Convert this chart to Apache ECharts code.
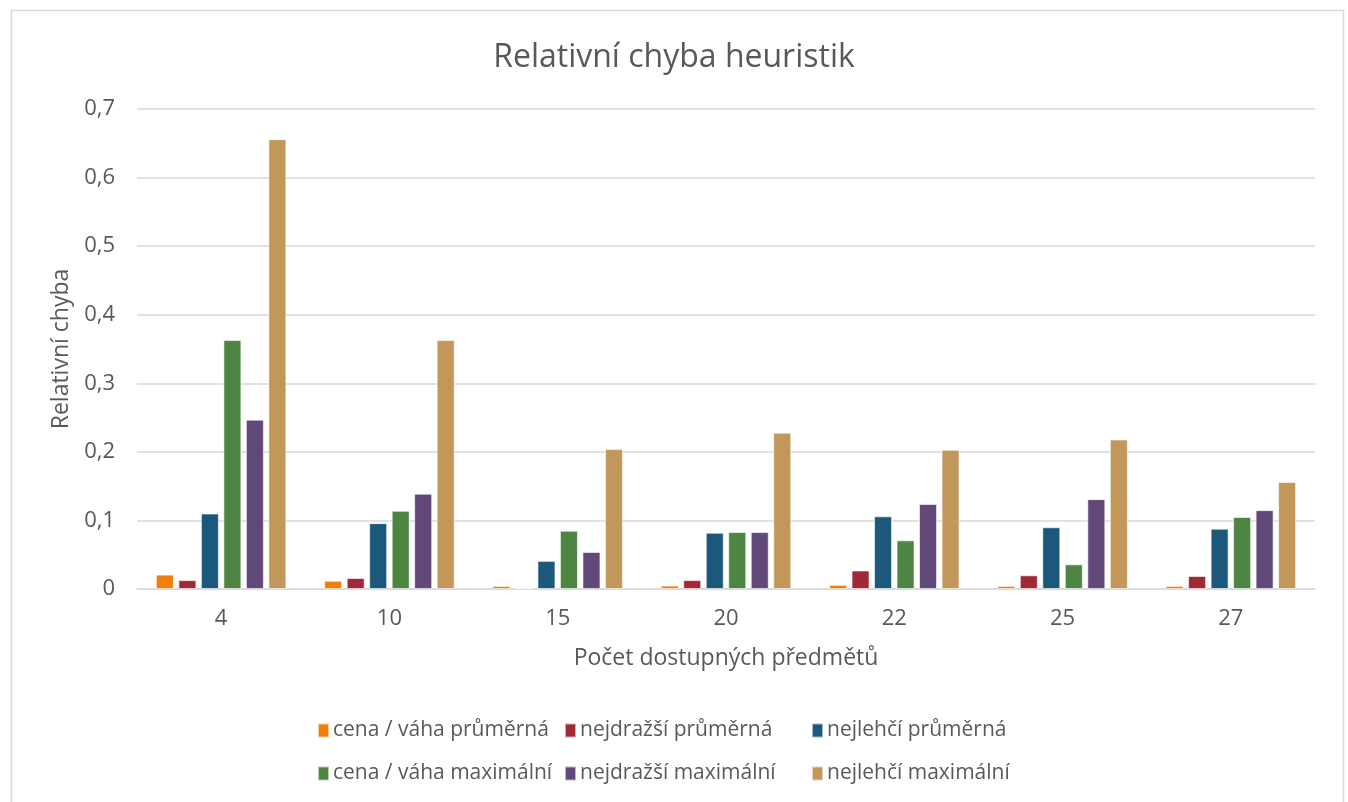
<!DOCTYPE html>
<html><head><meta charset="utf-8">
<script src="https://cdn.jsdelivr.net/npm/echarts@6/dist/echarts.min.js"></script>
<style>html,body{margin:0;padding:0;background:#fff}#c{width:1348px;height:802px}</style>
</head><body><div id="c"></div>
<script>
const categories = ['4', '10', '15', '20', '22', '25', '27'];
const seriesNames = ['cena / váha průměrná', 'nejdražší průměrná', 'nejlehčí průměrná', 'cena / váha maximální', 'nejdražší maximální', 'nejlehčí maximální'];
const cenaVahaPrumerna = [0.021, 0.012, 0.0045, 0.005, 0.006, 0.0045, 0.0045];
const nejdrazsiPrumerna = [0.013, 0.016, 0.0015, 0.013, 0.027, 0.020, 0.019];
const nejlehciPrumerna = [0.110, 0.096, 0.041, 0.082, 0.106, 0.090, 0.088];
const cenaVahaMaximalni = [0.363, 0.114, 0.085, 0.083, 0.071, 0.036, 0.105];
const nejdrazsiMaximalni = [0.247, 0.139, 0.054, 0.083, 0.124, 0.131, 0.115];
const nejlehciMaximalni = [0.656, 0.363, 0.204, 0.228, 0.203, 0.218, 0.156];
const yTicks = ['0', '0,1', '0,2', '0,3', '0,4', '0,5', '0,6', '0,7'];

const colors = ['#F07F09', '#9F2936', '#1B587C', '#4E8542', '#604878', '#C19859'];
const allData = [cenaVahaPrumerna, nejdrazsiPrumerna, nejlehciPrumerna, cenaVahaMaximalni, nejdrazsiMaximalni, nejlehciMaximalni];
const FONT = 'Open Sans';
const textColor = '#595959';

const legendPos = [[317, 720], [564, 720], [811, 720], [317, 763], [564, 763], [811, 763]];
const legends = seriesNames.map((n, i) => ({
  data: [n], left: legendPos[i][0], top: legendPos[i][1],
  itemWidth: 11, itemHeight: 14, itemGap: 4, icon: 'rect',
  textStyle: { color: textColor, fontFamily: FONT, fontSize: 21, padding: [0, 0, 0, -1] }, padding: 0, selectedMode: false
}));

const chart = echarts.init(document.getElementById('c'));
chart.setOption({
  animation: false,
  color: colors,
  backgroundColor: '#fff',
  title: { text: 'Relativní chyba heuristik', left: 'center', top: 37,
    textStyle: { color: textColor, fontFamily: FONT, fontSize: 32, fontWeight: 'normal' } },
  legend: legends,
  grid: { left: 137, right: 33, top: 109, bottom: 213, containLabel: false },
  xAxis: {
    type: 'category', data: categories,
    name: 'Počet dostupných předmětů', nameLocation: 'middle', nameGap: 58,
    nameTextStyle: { color: textColor, fontFamily: FONT, fontSize: 23 },
    axisLine: { lineStyle: { color: '#d9d9d9', width: 1.5 } },
    axisTick: { show: false },
    axisLabel: { color: textColor, fontFamily: FONT, fontSize: 22, margin: 19 }
  },
  yAxis: {
    type: 'value', min: 0, max: 0.7, interval: 0.1,
    name: 'Relativní chyba', nameLocation: 'middle', nameGap: 64, nameRotate: 90,
    nameTextStyle: { color: textColor, fontFamily: FONT, fontSize: 23 },
    axisLine: { show: false }, axisTick: { show: false },
    axisLabel: { color: textColor, fontFamily: FONT, fontSize: 22, margin: 22,
      formatter: (v) => yTicks[Math.round(v * 10)] },
    splitLine: { lineStyle: { color: '#d9d9d9', width: 1.5 } }
  },
  series: seriesNames.map((n, i) => ({
    name: n, type: 'bar', data: allData[i], barWidth: 18, barGap: '25%',
    itemStyle: { color: colors[i], borderColor: 'rgba(255,255,255,0.6)', borderWidth: 1 }
  })),
  graphic: [{ type: 'rect', shape: { x: 11.5, y: 10.5, width: 1332, height: 800 },
    style: { fill: 'none', stroke: '#d9d9d9', lineWidth: 1.5 }, silent: true }]
});
</script></body></html>
